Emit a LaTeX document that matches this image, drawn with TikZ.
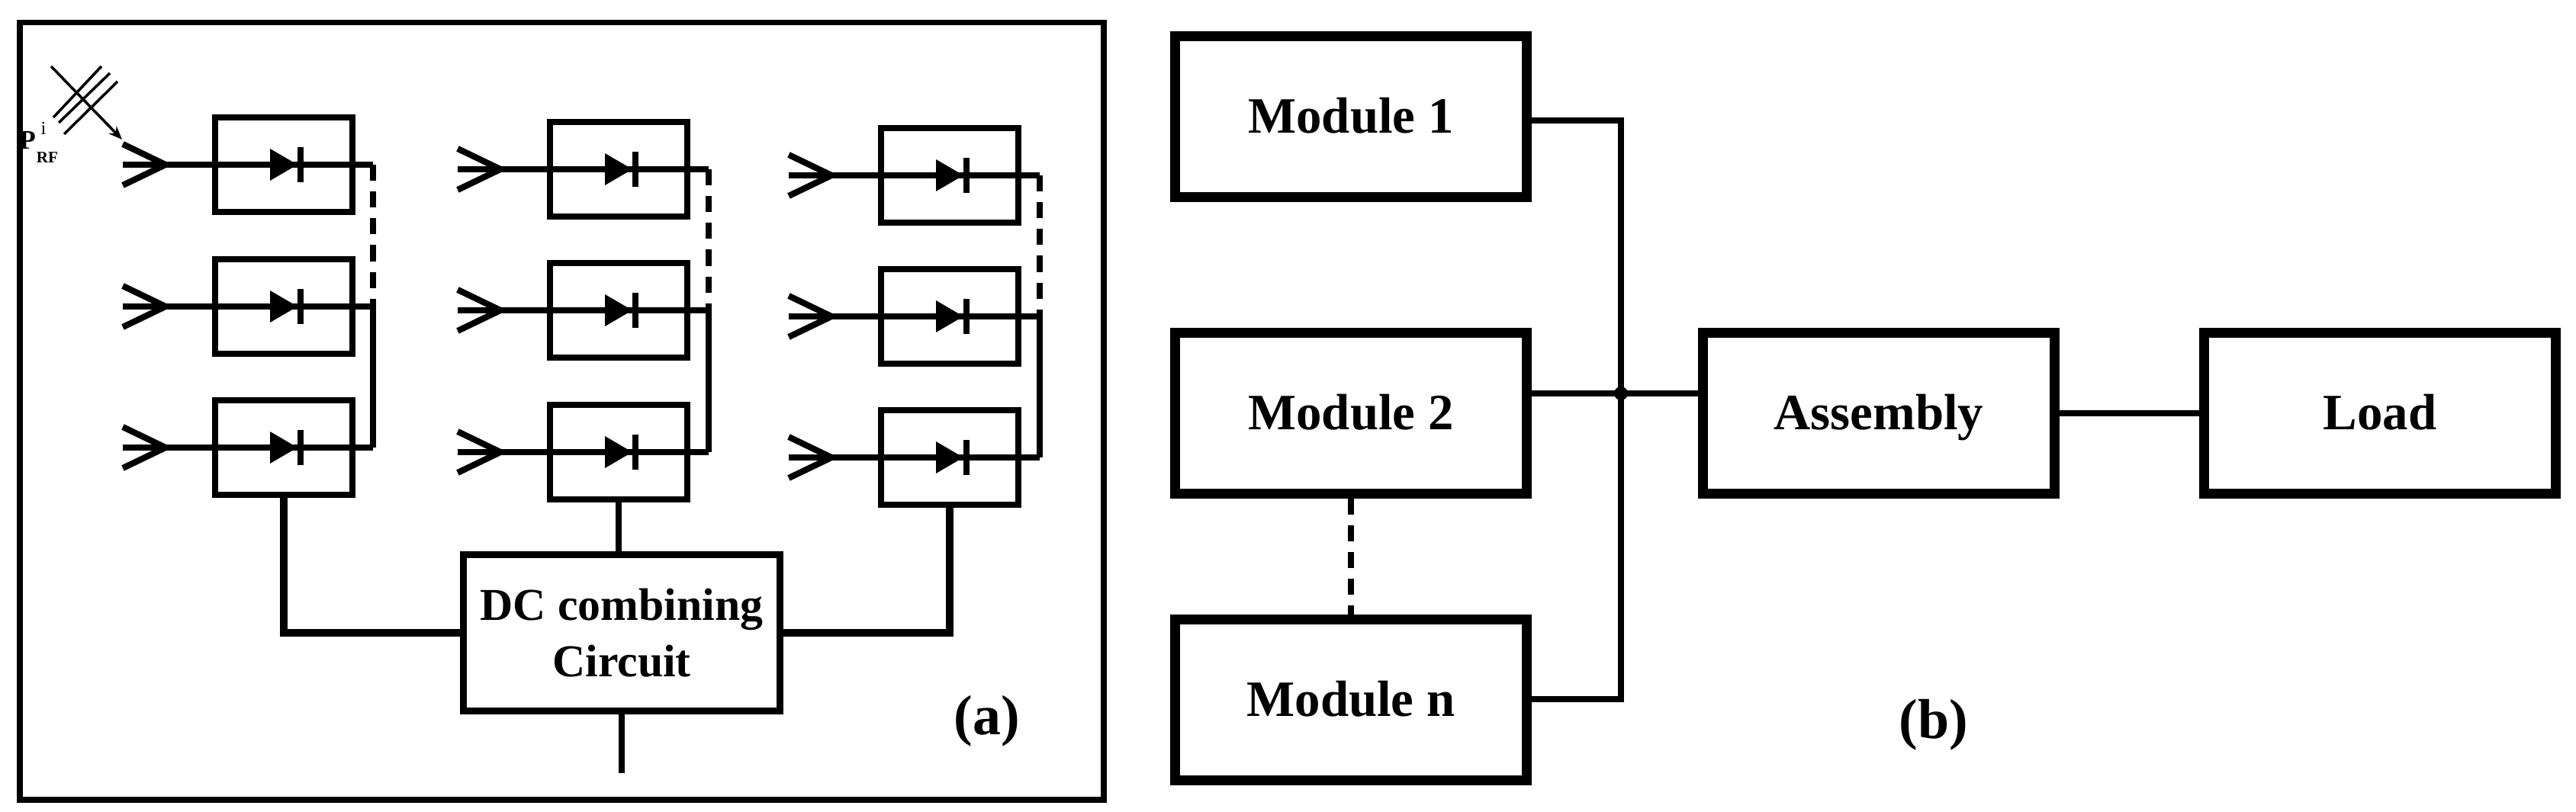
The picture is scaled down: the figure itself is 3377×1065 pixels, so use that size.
\documentclass[tikz,border=0pt]{standalone}
\usepackage{fontspec}
\setmainfont{Liberation Serif}
\usetikzlibrary{arrows.meta,calc}
\begin{document}
\begin{tikzpicture}[x=0.01cm,y=-0.01cm,
  cell/.style={draw,line width=2.5pt,minimum width=1.8cm,minimum height=1.24cm,inner sep=0},
  mod/.style={draw,line width=3.7pt,minimum width=4.6cm,minimum height=2.1cm,inner sep=0,text height=12pt,text depth=0pt,font=\bfseries\fontsize{19}{20}\selectfont},
  wire/.style={line width=2.3pt},
  bwire/.style={line width=2.3pt},
  dsh/.style={line width=2.3pt,dash pattern=on 6pt off 4pt}]
\useasboundingbox (0,0) rectangle (3377,1065);
% frame (a)
\draw[line width=2pt] (26,30) rectangle (1447,1049);
% cells
\foreach \c/\x/\vx/\ya/\yb/\yc in {1/372/489/216/402/587, 2/811/929/222/407/593, 3/1245/1363/230/415/600}{
  \foreach \r/\y in {1/\ya,2/\yb,3/\yc}{
    \node[cell] (c\c r\r) at (\x,\y) {};
    \coordinate (ch\c r\r) at ({\x-211},\y);
    \coordinate (tp\c r\r) at ({\x-155},\y);
    \draw[wire,line join=miter] ($(tp\c r\r)+(-56,-27)$) -- (tp\c r\r) -- ($(tp\c r\r)+(-56,27)$);
    \draw[wire] (ch\c r\r) -- (\vx,\y);
    \fill ({\x-18},{\y-21}) -- ({\x+18},\y) -- ({\x-18},{\y+21}) -- cycle;
    \draw[line width=2.5pt] ({\x+22},{\y-23}) -- ({\x+22},{\y+23});
  }
  \draw[dsh] (\vx,\ya) -- (\vx,\yb);
  \draw[wire] (\vx,\yb) -- (\vx,\yc);
}
% DC combining
\node[draw,line width=2.5pt,minimum width=4.15cm,minimum height=2.05cm,inner sep=0,align=center,
  font=\bfseries\fontsize{17}{21}\selectfont] (dc) at (815,830) {DC combining\\Circuit};
\draw[wire] (c2r3.south) -- (c2r3.south |- dc.north);
\draw[line width=2.8pt] (c1r3.south) |- (dc.west);
\draw[line width=2.8pt] (c3r3.south) |- (dc.east);
\coordinate (out) at (815,1014);
\draw[wire] (dc.south) -- (out);
\node[font=\bfseries\fontsize{21}{24}\selectfont] (la) at (1294,946) {(a)};
% antenna P_RF
\draw[line width=1pt] (70,154) -- (133,87);
\draw[line width=1pt] (77,161) -- (144,96);
\draw[line width=1pt] (84,176) -- (154,107);
\coordinate (aa) at (67,87);
\coordinate (ab) at (160,183);
\draw[line width=1pt,-{Stealth[length=5pt,width=4pt]}] (aa) -- (ab);
\node[font=\bfseries\fontsize{10}{11}\selectfont,inner sep=0] (p) at (36,184) {P};
\node[font=\bfseries\fontsize{6}{7}\selectfont,inner sep=0] (rf) at (62,207) {RF};
\node[font=\fontsize{7}{8}\selectfont,inner sep=0] (pi) at (57,168) {i};
% panel (b)
\node[mod] (m1) at (1771,153) {Module 1};
\node[mod] (m2) at (1771,542) {Module 2};
\node[mod] (mn) at (1771,918) {Module n};
\node[mod] (as) at (2463,542) {Assembly};
\node[mod] (ld) at (3120,542) {Load};
\coordinate (bt) at (2125,158);
\coordinate (bm) at (2125,516);
\coordinate (bb) at (2125,917);
\draw[bwire] (m1.east |- bt) -- (bt) -- (bb) -- (mn.east |- bb);
\draw[bwire] (m2.east |- bm) -- (bm) -- (as.west |- bm);
\fill (bm) circle (9);
\draw[bwire] (as.east) -- (ld.west);
\draw[dsh] (m2.south) -- (mn.north);
\node[font=\bfseries\fontsize{21}{24}\selectfont] (lb) at (2535,951) {(b)};
\end{tikzpicture}
\end{document}
